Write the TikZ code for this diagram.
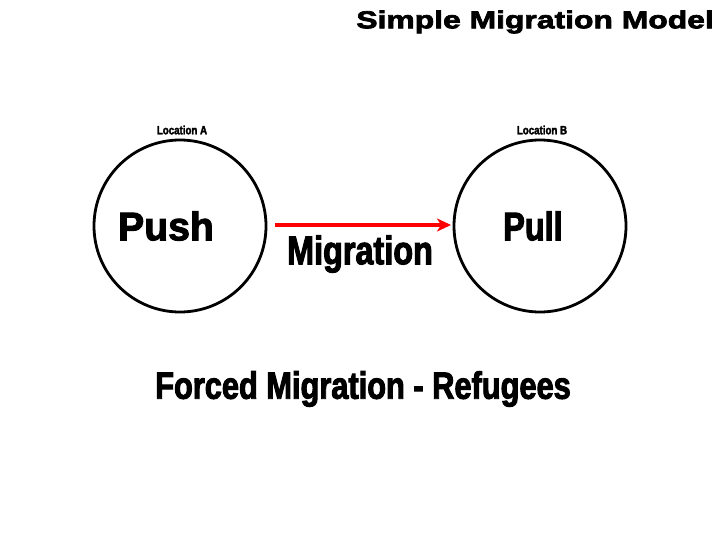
\documentclass[tikz,border=0pt]{standalone}
\usepackage{fontspec}
\setmainfont{Liberation Sans}
\newfontfamily\impact{Liberation Sans}[FakeStretch=0.81,FakeBold=2.5]
\newfontfamily\impactw{Liberation Sans}[FakeStretch=0.98,FakeBold=2.5]
\newfontfamily\heavy{Liberation Sans}[FakeStretch=1.3,FakeBold=3]
\usetikzlibrary{arrows.meta}
\begin{document}
\begin{tikzpicture}[x=1pt,y=-1pt,
  place/.style={circle,draw,line width=2.8pt,minimum size=172pt,inner sep=0pt},
  big/.style={font=\impact\bfseries\fontsize{40}{40}\selectfont,inner sep=0pt},
  tiny/.style={font=\impact\bfseries\fontsize{12}{12}\selectfont,inner sep=0pt},
  flow/.style={draw=red,line width=3.5pt,-{Stealth[length=14pt,width=13pt,inset=4pt]}}]
\useasboundingbox (0,0) rectangle (728,546);
\node[font=\heavy\bfseries\fontsize{24.5}{24.5}\selectfont,inner sep=0pt,anchor=east] (title) at (714,22) {Simple Migration Model};
\node[place] (a) at (180,226) {};
\node[place] (b) at (540,226) {};
\node[tiny] (la) at (182,130) {Location A};
\node[tiny] (lb) at (542,130) {Location B};
\node[big,font=\impactw\bfseries\fontsize{40}{40}\selectfont] (push) at (166,226) {Push};
\node[big] (pull) at (533,226) {Pull};
\coordinate (s) at (275,225);
\coordinate (e) at (451,225);
\draw[flow] (s) -- (e);
\node[big] (mig) at (360,254) {Migration};
\node[big,font=\impact\bfseries\fontsize{38}{38}\selectfont] (forced) at (363,389) {Forced Migration - Refugees};
\end{tikzpicture}
\end{document}
